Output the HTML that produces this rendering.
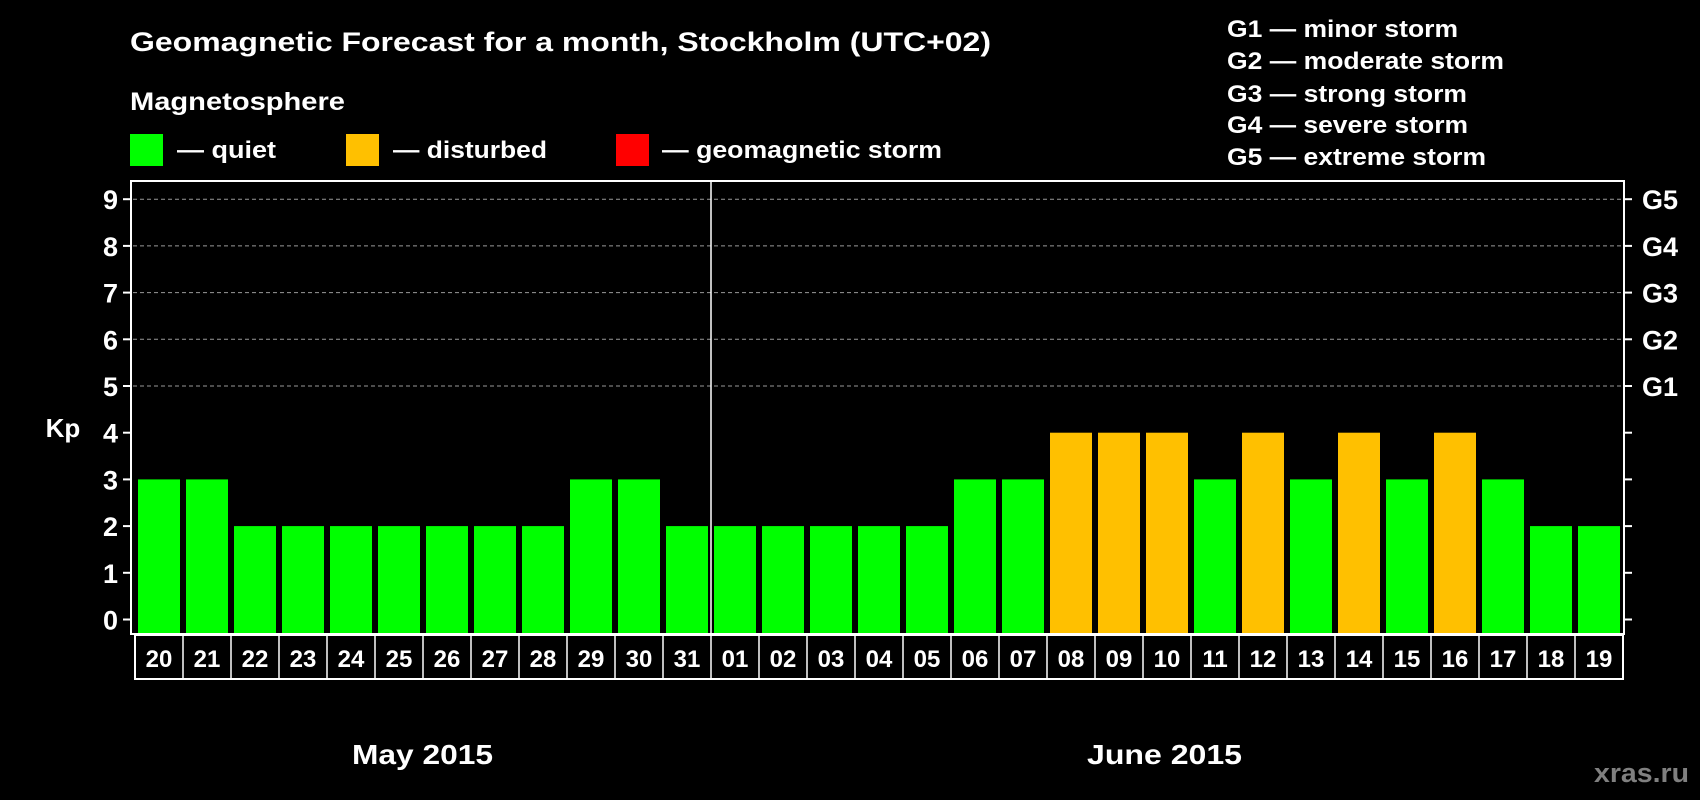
<!DOCTYPE html>
<html><head><meta charset="utf-8"><style>
html,body{margin:0;padding:0;background:#000;width:1700px;height:800px;overflow:hidden}
svg text{font-family:"Liberation Sans",sans-serif;font-weight:bold;fill:#fff}
</style></head><body>
<svg id="chart" width="1700" height="800" xmlns="http://www.w3.org/2000/svg">
<rect width="1700" height="800" fill="#000"/>
<text x="130" y="51" font-size="27" textLength="861" lengthAdjust="spacingAndGlyphs">Geomagnetic Forecast for a month, Stockholm (UTC+02)</text>
<text x="130" y="110" font-size="25" textLength="215" lengthAdjust="spacingAndGlyphs">Magnetosphere</text>
<rect x="130" y="134" width="33" height="32" fill="#00ff00"/>
<text x="177" y="158" font-size="24" textLength="99" lengthAdjust="spacingAndGlyphs">— quiet</text>
<rect x="346" y="134" width="33" height="32" fill="#ffc000"/>
<text x="393" y="158" font-size="24" textLength="154" lengthAdjust="spacingAndGlyphs">— disturbed</text>
<rect x="616" y="134" width="33" height="32" fill="#ff0000"/>
<text x="662" y="158" font-size="24" textLength="280" lengthAdjust="spacingAndGlyphs">— geomagnetic storm</text>
<g font-size="24">
<text x="1227" y="37" textLength="231" lengthAdjust="spacingAndGlyphs">G1 — minor storm</text>
<text x="1227" y="69" textLength="277" lengthAdjust="spacingAndGlyphs">G2 — moderate storm</text>
<text x="1227" y="102" textLength="240" lengthAdjust="spacingAndGlyphs">G3 — strong storm</text>
<text x="1227" y="133" textLength="241" lengthAdjust="spacingAndGlyphs">G4 — severe storm</text>
<text x="1227" y="165" textLength="259" lengthAdjust="spacingAndGlyphs">G5 — extreme storm</text>
</g>
<g id="plot"></g>
<text x="63" y="437" font-size="26" text-anchor="middle">Kp</text>
<text x="352" y="764" font-size="28" textLength="141" lengthAdjust="spacingAndGlyphs">May 2015</text>
<text x="1087" y="764" font-size="28" textLength="155" lengthAdjust="spacingAndGlyphs">June 2015</text>
<text x="1594" y="782" font-size="27" textLength="95" lengthAdjust="spacingAndGlyphs" style="fill:#808080">xras.ru</text>
</svg>
<script>
const days=["20","21","22","23","24","25","26","27","28","29","30","31","01","02","03","04","05","06","07","08","09","10","11","12","13","14","15","16","17","18","19"];
const kpValues=[3,3,2,2,2,2,2,2,2,3,3,2,2,2,2,2,2,3,3,4,4,4,3,4,3,4,3,4,3,2,2];
const yTicks=[0,1,2,3,4,5,6,7,8,9];
const gLabels=["G1","G2","G3","G4","G5"];
const gLevels=[5,6,7,8,9];
const NS="http://www.w3.org/2000/svg";
const g=document.getElementById('plot');
const x0=135,pitch=48,y0=619.5,unit=46.7;
const plotL=131,plotR=1624,plotT=181,plotB=634;
function xs(i){return x0+i*pitch;}
function ys(v){return y0-v*unit;}
function mk(tag,attrs){const e=document.createElementNS(NS,tag);for(const k in attrs)e.setAttribute(k,attrs[k]);g.appendChild(e);return e;}
function color(v){return v>=5?"#ff0000":(v>=4?"#ffc000":"#00ff00");}
yTicks.forEach(t=>{
  const y=ys(t);
  if(t>=5){const l=mk('line',{x1:plotL+2,x2:plotR-2,y1:y,y2:y,stroke:'#999','stroke-width':1,'stroke-dasharray':'4,3'});
  
  }
  const tk=mk('line',{x1:plotL-8,x2:plotL,y1:y,y2:y,stroke:'#fff','stroke-width':2});
  
  
  const tr=mk('line',{x1:plotR,x2:plotR+8,y1:y,y2:y,stroke:'#fff','stroke-width':2});
  
  
  const tx=mk('text',{x:plotL-13,y:y+10,'font-size':27,'text-anchor':'end'});
  tx.textContent=t;
  
  
});
gLevels.forEach((lv,i)=>{
  const tx=mk('text',{x:plotR+18,y:ys(lv)+10,'font-size':27});
  tx.textContent=gLabels[i];
  
  
});
kpValues.forEach((v,i)=>{
  const r=mk('rect',{x:xs(i)+3,y:ys(v),width:42,height:plotB-ys(v),fill:color(v)});
  
  
});
const frame=mk('rect',{x:plotL,y:plotT,width:plotR-plotL,height:plotB-plotT,fill:'none',stroke:'#fff','stroke-width':2});


const div=mk('line',{x1:xs(12),x2:xs(12),y1:plotT,y2:plotB,stroke:'#fff','stroke-width':1.5});


const box=mk('rect',{x:x0,y:plotB+1,width:days.length*pitch,height:44,fill:'none',stroke:'#fff','stroke-width':2});


days.forEach((d,i)=>{
  if(i>0){const s=mk('line',{x1:xs(i),x2:xs(i),y1:plotB+1,y2:plotB+45,stroke:'#fff','stroke-width':1.5});
  
  }
  const t=mk('text',{x:xs(i)+pitch/2,y:plotB+33,'font-size':24,'text-anchor':'middle'});
  t.textContent=d;
  
  
});
</script>
</body></html>
